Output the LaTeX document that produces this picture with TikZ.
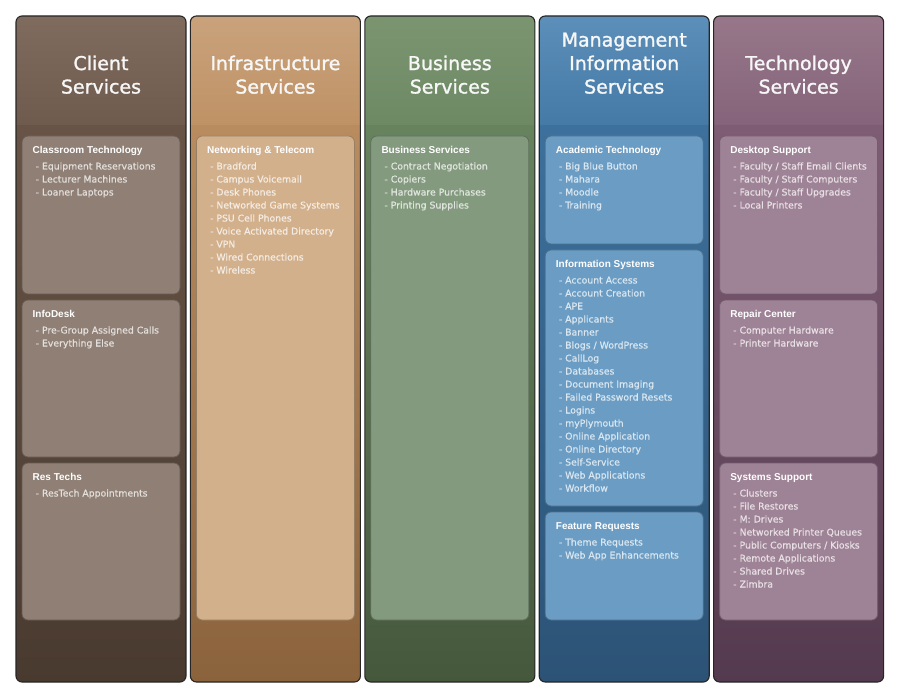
\documentclass[tikz,border=0pt]{standalone}
\usepackage{fontspec}
\setmainfont{DejaVu Sans}
\newfontfamily\titlefont[FakeBold=1.4]{DejaVu Sans}
\newfontfamily\itemfont[FakeBold=0.7]{DejaVu Sans}
\newfontfamily\headfont{Liberation Sans}

% column palettes: header top / header bottom / body top / body bottom / panel
\definecolor{topA}{HTML}{806C5F}\definecolor{midA}{HTML}{6F5B4D}
\definecolor{lowA}{HTML}{685446}\definecolor{botA}{HTML}{493A30}
\definecolor{boxA}{HTML}{8F7F74}
\definecolor{topB}{HTML}{C9A27C}\definecolor{midB}{HTML}{BF9265}
\definecolor{lowB}{HTML}{B98C5F}\definecolor{botB}{HTML}{8A623C}
\definecolor{boxB}{HTML}{D2B08C}
\definecolor{topC}{HTML}{7B9571}\definecolor{midC}{HTML}{6D8964}
\definecolor{lowC}{HTML}{67835E}\definecolor{botC}{HTML}{46583C}
\definecolor{boxC}{HTML}{849A7E}
\definecolor{topD}{HTML}{5C90BA}\definecolor{midD}{HTML}{4579A6}
\definecolor{lowD}{HTML}{3D709C}\definecolor{botD}{HTML}{2C5376}
\definecolor{boxD}{HTML}{6A9CC4}
\definecolor{topE}{HTML}{977789}\definecolor{midE}{HTML}{85647B}
\definecolor{lowE}{HTML}{7E5D74}\definecolor{botE}{HTML}{543A4E}
\definecolor{boxE}{HTML}{9E8296}

% one service panel: name, left x, top y, bottom y, colour, heading, items
\newcommand\svcbox[7]{%
  \path[panel, fill=#5, draw=#5!72!black] (#2,#3) rectangle ({#2+158},#4);
  \node[boxhead] (#1) at ({#2+10.5},{#3+17.5}) {#6};
  \foreach \itm [count=\k] in {#7} {%
    \node[boxitem, text=white!75!#5] (#1-\k) at ({#2+13.5},{#3+33.5+13*(\k-1)}) {- \itm};
  }%
}

% one service column: left x, four shading colours, title node name, title
\newcommand\svccolumn[7]{%
  \begin{scope}
    \clip[rounded corners=6pt] (#1,16) rectangle ({#1+170},682);
    \shade[top color=#2, bottom color=#3] (#1,15) rectangle ({#1+170},126);
    \shade[top color=#4, bottom color=#5] (#1,126) rectangle ({#1+170},683);
  \end{scope}
  \draw[colborder] (#1,16) rectangle ({#1+170},682);
  \node[coltitle] (#6) at ({#1+85},94) {#7};
}

\begin{document}
\begin{tikzpicture}[x=1pt, y=-1pt,
  colborder/.style={draw=black!85, line width=1.1pt, rounded corners=6pt},
  panel/.style={line width=0.8pt, rounded corners=6pt},
  coltitle/.style={anchor=south, inner sep=0pt, align=center,
    text=white!97!black, font=\titlefont\fontsize{19}{23.5}\selectfont},
  boxhead/.style={anchor=base west, inner sep=0pt, text=white,
    font=\headfont\bfseries\fontsize{10}{12}\selectfont},
  boxitem/.style={anchor=base west, inner sep=0pt,
    font=\itemfont\fontsize{9.3}{13}\selectfont},
]
\useasboundingbox[fill=white] (0,0) rectangle (900,695);

% ---- Client Services
\svccolumn{16}{topA}{midA}{lowA}{botA}{client}{Client\\Services}
\svcbox{classroom}{22}{136}{294}{boxA}{Classroom Technology}
  {Equipment Reservations, Lecturer Machines, Loaner Laptops}
\svcbox{infodesk}{22}{300}{457}{boxA}{InfoDesk}
  {Pre-Group Assigned Calls, Everything Else}
\svcbox{restechs}{22}{463}{620}{boxA}{Res Techs}
  {ResTech Appointments}

% ---- Infrastructure Services
\svccolumn{190.4}{topB}{midB}{lowB}{botB}{infra}{Infrastructure\\Services}
\svcbox{network}{196.4}{136}{620}{boxB}{Networking \& Telecom}
  {Bradford, Campus Voicemail, Desk Phones, Networked Game Systems,
   PSU Cell Phones, Voice Activated Directory, VPN, Wired Connections, Wireless}

% ---- Business Services
\svccolumn{364.8}{topC}{midC}{lowC}{botC}{business}{Business\\Services}
\svcbox{bizsvc}{370.8}{136}{620}{boxC}{Business Services}
  {Contract Negotiation, Copiers, Hardware Purchases, Printing Supplies}

% ---- Management Information Services
\svccolumn{539.2}{topD}{midD}{lowD}{botD}{mis}{Management\\Information\\Services}
\svcbox{academic}{545.2}{136}{244}{boxD}{Academic Technology}
  {Big Blue Button, Mahara, Moodle, Training}
\svcbox{infosys}{545.2}{250}{506}{boxD}{Information Systems}
  {Account Access, Account Creation, APE, Applicants, Banner,
   Blogs / WordPress, CallLog, Databases, Document Imaging,
   Failed Password Resets, Logins, myPlymouth, Online Application,
   Online Directory, Self-Service, Web Applications, Workflow}
\svcbox{features}{545.2}{512}{620}{boxD}{Feature Requests}
  {Theme Requests, Web App Enhancements}

% ---- Technology Services
\svccolumn{713.6}{topE}{midE}{lowE}{botE}{tech}{Technology\\Services}
\svcbox{desktop}{719.6}{136}{294}{boxE}{Desktop Support}
  {Faculty / Staff Email Clients, Faculty / Staff Computers,
   Faculty / Staff Upgrades, Local Printers}
\svcbox{repair}{719.6}{300}{457}{boxE}{Repair Center}
  {Computer Hardware, Printer Hardware}
\svcbox{systems}{719.6}{463}{620}{boxE}{Systems Support}
  {Clusters, File Restores, M: Drives, Networked Printer Queues,
   Public Computers / Kiosks, Remote Applications, Shared Drives, Zimbra}
\end{tikzpicture}
\end{document}
